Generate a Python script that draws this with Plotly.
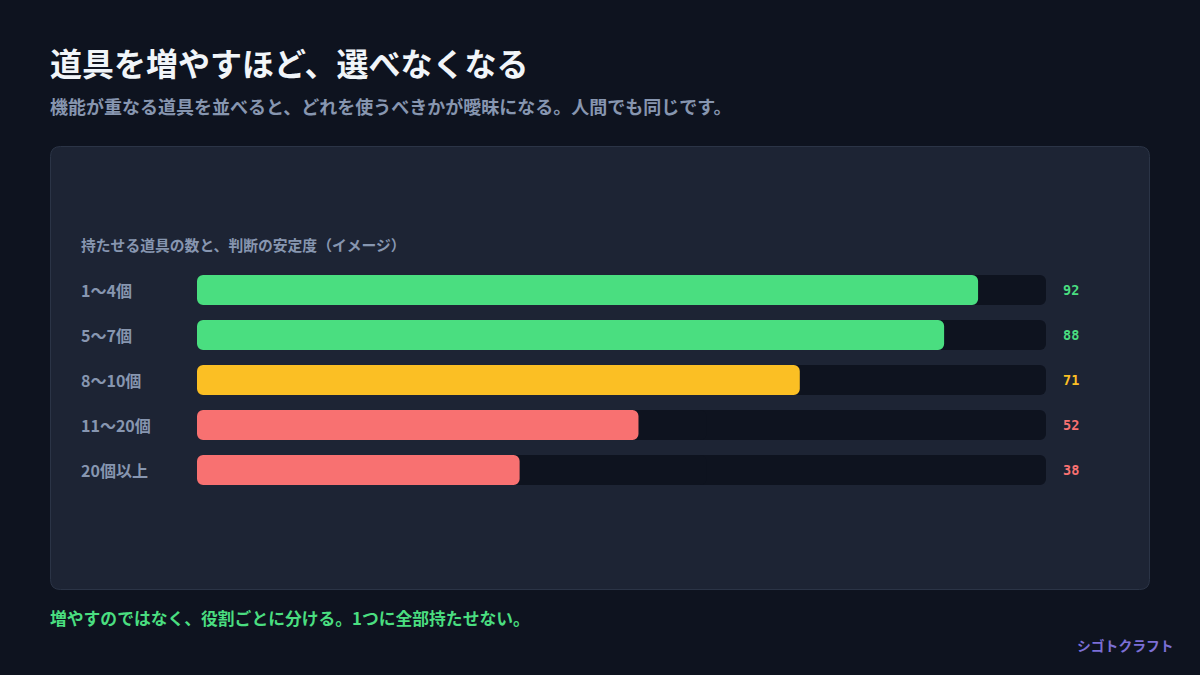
import plotly.graph_objects as go

categories = ["1〜4個", "5〜7個", "8〜10個", "11〜20個", "20個以上"]
values = [92, 88, 71, 52, 38]
bar_colors = ["#4ade80", "#4ade80", "#fbbf24", "#f87171", "#f87171"]
max_value = 100

title = "道具を増やすほど、選べなくなる"
subtitle = "機能が重なる道具を並べると、どれを使うべきかが曖昧になる。人間でも同じです。"
chart_label = "持たせる道具の数と、判断の安定度（イメージ）"
footer = "増やすのではなく、役割ごとに分ける。1つに全部持たせない。"
credit = "シゴトクラフト"

W, H = 1200, 675
BG = "#0e131f"
CARD = "#1d2434"
TRACK = "#0e131f"
JP = "Noto Sans CJK JP"

def px(x):
    return x / W

def py(y):
    return (H - y) / H

fig = go.Figure()

n = len(categories)
split_lo, split_hi = 0.4 * max_value, 0.6 * max_value
# track: two overlapping halves so both outer ends are rounded
fig.add_trace(go.Bar(y=categories, x=[max_value - split_lo] * n, base=[split_lo] * n,
                     orientation="h", marker=dict(color=TRACK, cornerradius=6, line=dict(width=0)),
                     width=0.667, hoverinfo="skip", showlegend=False))
fig.add_trace(go.Bar(y=categories, x=[-split_hi] * n, base=[split_hi] * n,
                     orientation="h", marker=dict(color=TRACK, cornerradius=6, line=dict(width=0)),
                     width=0.667, hoverinfo="skip", showlegend=False))
# fill: drawn from value back to 0 so the rounded end is on the left
fig.add_trace(go.Bar(y=categories, x=[-v for v in values], base=values,
                     orientation="h", marker=dict(color=bar_colors, cornerradius=6, line=dict(width=0)),
                     width=0.667, hoverinfo="skip", showlegend=False))

# card background
x0, x1, y0, y1, r = 50.5, 1149.5, 146.5, 589.5, 10
path = (f"M {px(x0 + r)} {py(y0)} L {px(x1 - r)} {py(y0)} Q {px(x1)} {py(y0)} {px(x1)} {py(y0 + r)} "
        f"L {px(x1)} {py(y1 - r)} Q {px(x1)} {py(y1)} {px(x1 - r)} {py(y1)} "
        f"L {px(x0 + r)} {py(y1)} Q {px(x0)} {py(y1)} {px(x0)} {py(y1 - r)} "
        f"L {px(x0)} {py(y0 + r)} Q {px(x0)} {py(y0)} {px(x0 + r)} {py(y0)} Z")
fig.add_shape(type="path", path=path, xref="paper", yref="paper", fillcolor=CARD,
              line=dict(color="#2b3446", width=1), layer="below")

ann = []
ann.append(dict(text=f"<b>{title}</b>", x=px(47.5), y=py(62), xanchor="left", yanchor="middle",
                font=dict(family=JP, size=32, color="#f1f5f9")))
ann.append(dict(text=f"<b>{subtitle}</b>", x=px(48), y=py(106), xanchor="left", yanchor="middle",
                font=dict(family=JP, size=18, color="#8796b0")))
ann.append(dict(text=f"<b>{chart_label}</b>", x=px(79), y=py(245), xanchor="left", yanchor="middle",
                font=dict(family=JP, size=14.8, color="#8796b0")))
for c in categories:
    ann.append(dict(text=f"<b>{c}</b>", x=px(79), xref="paper", y=c, yref="y",
                    xanchor="left", yanchor="middle",
                    font=dict(family=JP, size=16, color="#8796b0")))
for c, v, col in zip(categories, values, bar_colors):
    ann.append(dict(text=f"<b>{v}</b>", x=px(1061), xref="paper", y=c, yref="y",
                    xanchor="left", yanchor="middle",
                    font=dict(family="DejaVu Sans Mono", size=13.5, color=col)))
ann.append(dict(text=f"<b>{footer}</b>", x=px(48), y=py(618), xanchor="left", yanchor="middle",
                font=dict(family=JP, size=16.8, color="#4ade80")))
ann.append(dict(text=f"<b>{credit}</b>", x=px(1176), y=py(645), xanchor="right", yanchor="middle",
                font=dict(family=JP, size=13.8, color="#7c6fd6")))
for a in ann:
    a.setdefault("xref", "paper")
    a.setdefault("yref", "paper")
    a["showarrow"] = False

y_top, y_bot = 267.5, 492.5
fig.update_layout(
    width=W, height=H,
    margin=dict(l=0, r=0, t=0, b=0, pad=0),
    paper_bgcolor=BG, plot_bgcolor="rgba(0,0,0,0)",
    barmode="overlay",
    xaxis=dict(domain=[px(197), px(1046)], range=[0, max_value], visible=False, fixedrange=True),
    yaxis=dict(domain=[py(y_bot), py(y_top)], range=[n - 0.5, -0.5],
               visible=False, fixedrange=True, type="category",
               categoryorder="array", categoryarray=categories),
    annotations=ann,
    showlegend=False,
)

fig.write_html("out.html")
